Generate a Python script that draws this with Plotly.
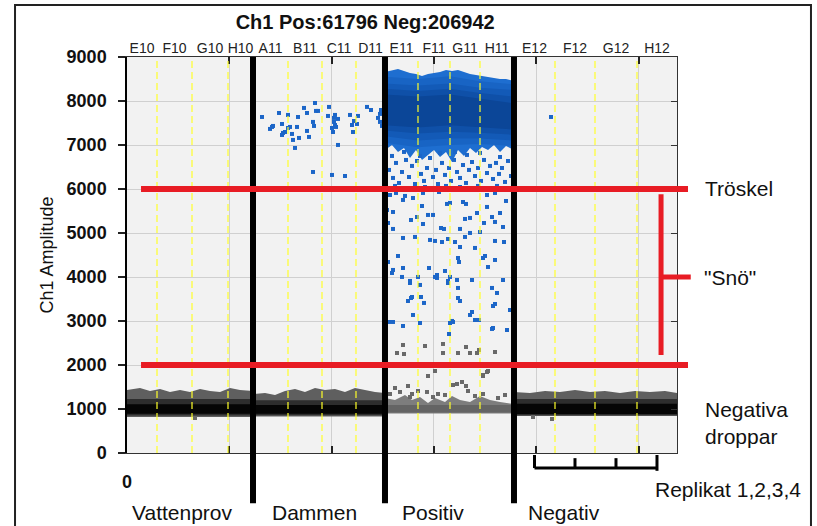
import plotly.graph_objects as go

# ---------------- data ----------------
pos_count = 61796
neg_count = 206942
total_events = 268738

well_names = ["E10", "F10", "G10", "H10", "A11", "B11", "C11", "D11",
              "E11", "F11", "G11", "H11", "E12", "F12", "G12", "H12"]
well_edges = [0, 14658, 31759, 49349, 61564, 78665, 95277, 111889, 126059,
              142184, 157821, 172479, 189088, 209120, 228665, 249186, 268738]
group_names = ["Vattenprov", "Dammen", "Positiv", "Negativ"]
group_edges = [0, 61564, 126059, 189088, 268738]

amp_ticks = [0, 1000, 2000, 3000, 4000, 5000, 6000, 7000, 8000, 9000]
event_ticks = [0, 50000, 100000, 150000, 200000, 250000]
event_ticktext = ["0", "", "", "", "", ""]

threshold = 6000
snow_floor = 2000
snow_label_level = 4000
snow_bracket = [5880, 2230]

# dense positive droplet cloud (Positiv group): envelope
cloud_ev = [126059, 129479, 132411, 135343, 138275, 141207, 144138, 147070, 150002, 152934, 155866,
            158798, 161730, 164662, 167593, 170525, 173457, 176389, 179320, 182253, 185184, 189088]
cloud_top = [8660, 8705, 8730, 8683, 8637, 8615, 8570, 8615, 8637, 8660, 8705,
             8683, 8705, 8660, 8615, 8592, 8570, 8546, 8524, 8500, 8500, 8456]
cloud_bottom = [6887, 7001, 6842, 6933, 6705, 6887, 6660, 6774, 6887, 6728, 6842,
                6614, 6887, 6751, 6933, 6819, 6955, 6887, 7001, 6842, 6978, 6887]
# density shading inside the cloud (outer -> inner bands)
core_ev = [126059, 142184, 157821, 172479, 189088]
shade_top = [
    [8550, 8500, 8560, 8450, 8380],
    [8400, 8350, 8400, 8300, 8250],
    [8280, 8230, 8280, 8180, 8100],
    [8150, 8100, 8150, 8050, 7950],
]
shade_bottom = [
    [7050, 6950, 7000, 7020, 6980],
    [7200, 7100, 7150, 7150, 7100],
    [7330, 7260, 7300, 7280, 7230],
    [7450, 7400, 7450, 7400, 7350],
]

# negative droplet bands, per group: x positions and upper edge
neg_band_ev = [
    [0, 6352, 11238, 16124, 21010, 25896, 30782, 35668, 40554, 45440, 50326, 55212, 61564],
    [61564, 67427, 72313, 77199, 82085, 86971, 91857, 96743, 101629, 106515, 111401, 116287, 121173, 126059],
    [126059, 130945, 135832, 139252, 143161, 147070, 150490, 155377, 158798, 162707, 167593, 172479, 177366, 182253, 189088],
    [189088, 196909, 204238, 211567, 218896, 226226, 233555, 240884, 248213, 255542, 262872, 268738],
]
neg_band_top = [
    [1432, 1477, 1409, 1455, 1387, 1432, 1387, 1455, 1409, 1387, 1477, 1432, 1409],
    [1341, 1364, 1318, 1409, 1455, 1387, 1477, 1432, 1455, 1387, 1477, 1432, 1387, 1364],
    [1250, 1205, 1318, 1205, 1273, 1137, 1250, 1159, 1296, 1205, 1159, 1296, 1205, 1159, 1114],
    [1387, 1364, 1409, 1387, 1432, 1387, 1409, 1364, 1409, 1387, 1409, 1364],
]
neg_band_bottom = [820, 830, 900, 840]
neg_mid_range = [(850, 1230), (860, 1200), (920, 1090), (860, 1230)]
neg_core_range = [(890, 1110), (890, 1090), None, (885, 1120)]

# individual droplets: (event number, amplitude)
dammen_drops = [
    (65961, 7637), (69870, 7365), (71336, 7433), (74267, 7728), (75733, 7478), (75733, 7228),
    (77199, 7296), (78665, 7683), (78665, 7387), (79642, 7410), (80619, 7251), (81108, 7115),
    (82085, 6933), (83062, 7410), (83551, 7637), (84040, 7160), (86482, 7842), (87948, 7728),
    (87948, 7319), (88925, 7183), (90880, 7524), (91369, 7433), (91857, 7955), (92346, 7774),
    (93323, 7774), (98209, 7660), (98697, 7865), (100163, 7387), (100652, 7296), (101140, 7524),
    (101629, 7683), (102118, 7410), (103095, 7592), (103095, 7001), (108958, 7683), (109935, 7455),
    (110424, 7296), (110913, 7546), (112378, 7478), (112867, 7660), (117264, 7865), (119219, 7796),
    (122639, 7615), (123616, 7524), (124104, 7796), (90880, 6387), (100163, 6319), (106515, 6296),
    (70847, 7410), (76221, 7274), (101629, 7455), (101140, 7615), (123616, 7706), (124593, 7433),
]
negativ_drops = [(207166, 7637)]

cloud_speckle = [
    (128013, 6433), (129968, 6251), (131434, 6592), (132900, 6137), (134366, 6387), (136320, 6660),
    (137786, 6273), (139252, 6524), (140718, 6114), (141695, 6637), (143650, 6342), (145116, 6183),
    (146581, 6478), (148047, 6705), (149513, 6273), (150979, 6433), (151957, 6114), (153911, 6592),
    (155377, 6319), (157332, 6478), (158309, 6183), (159775, 6660), (161241, 6387), (162707, 6251),
    (164174, 6546), (165639, 6137), (167105, 6433), (168570, 6614), (170036, 6296), (171502, 6478),
    (172968, 6183), (174434, 6660), (175900, 6364), (177366, 6524), (178832, 6228), (180298, 6592),
    (181764, 6342), (183230, 6478), (184696, 6160), (186162, 6637), (187627, 6296), (129479, 6751),
    (135343, 6842), (143161, 6751), (152934, 6819), (160264, 6842), (166127, 6774), (172479, 6819),
    (182253, 6728), (130945, 6069), (145604, 6046), (162707, 6046), (180786, 6069), (155866, 6069),
    (171502, 6069),
]

rain_blue = [
    (128502, 5864), (131434, 5910), (135832, 5842), (139741, 5796), (144627, 5910), (152445, 5932),
    (157821, 5683), (164174, 5705), (165639, 5660), (175900, 5864), (179809, 5910), (185184, 5728),
    (129968, 5478), (134854, 5751), (141695, 5364), (144138, 5614), (147070, 5410), (149513, 5410),
    (156355, 5660), (165150, 5319), (167593, 5342), (171013, 5455), (175900, 5592), (178343, 5364),
    (182253, 5455), (127525, 5228), (129968, 5092), (138763, 5296), (140718, 4910), (144627, 5205),
    (153423, 5114), (154889, 5092), (162707, 5092), (167593, 5001), (172479, 5023), (174434, 5228),
    (179809, 5251), (183718, 5137), (134854, 4887), (148047, 4842), (150490, 4819), (153911, 4796),
    (156843, 4864), (160264, 4796), (162707, 4682), (165150, 4910), (170036, 4660), (179809, 4819),
    (184207, 4796), (132411, 4478), (134854, 4205), (129968, 4160), (129479, 4091), (134366, 4001),
    (138275, 3864), (142184, 4001), (143161, 3819), (147559, 4205), (150490, 4001), (151468, 3978),
    (155377, 4137), (157821, 4001), (156843, 3864), (161241, 3932), (161730, 3751), (162219, 4341),
    (168570, 3932), (173946, 4432), (174923, 4478), (176389, 4228), (179809, 4387), (178343, 3751),
    (180786, 3637), (183718, 3932), (138763, 3523), (137297, 3455), (143650, 3546), (145116, 3410),
    (139741, 3137), (129968, 2978), (134854, 2887), (143161, 2955), (157821, 2955), (158798, 3001),
    (167593, 3137), (168570, 3205), (171991, 3023), (178832, 3341), (179809, 3387), (178832, 2841),
    (185673, 2796), (157332, 2705), (128013, 2978), (161730, 3523), (162707, 3455), (139252, 3546),
    (159287, 2978), (170036, 3023), (178343, 2819), (127036, 5523), (127525, 4341), (187139, 3250),
    (161730, 4432), (151468, 4046), (138275, 3910), (156843, 3910),
]

rain_gray = [
    (134854, 2455), (131923, 2273), (135343, 2250), (145604, 2432), (154400, 2478), (154400, 2273),
    (161730, 2273), (165639, 2409), (167593, 2273), (171013, 2273), (171991, 2341), (179809, 2296),
    (147070, 1750), (150490, 1864), (175900, 1841), (173946, 1750), (130945, 1477), (137297, 1523),
    (142184, 1409), (146581, 1387), (151957, 1341), (159287, 1546), (161241, 1568), (163684, 1614),
    (165639, 1523), (166616, 1409), (173946, 1773), (176389, 1864), (181275, 1250), (138275, 1273),
    (139252, 1341), (149513, 1273), (173946, 1341), (133389, 1387), (155377, 1318), (170036, 1296),
    (184696, 1318), (128502, 1341), (33225, 795), (207655, 773), (198372, 818),
]

# ---------------- styling ----------------
FONT = "Liberation Sans, Arial, sans-serif"
BLUE = "rgb(28,102,200)"
GRAY = "rgb(105,105,105)"
SHADE_COLORS = ["rgb(24,100,196)", "rgb(19,90,183)", "rgb(15,80,168)", "rgb(11,70,152)"]

fig = go.Figure()


def add_band(xs, top, bottom, color, xaxis="x", yaxis="y"):
    if not isinstance(top, list):
        top = [top] * len(xs)
    if not isinstance(bottom, list):
        bottom = [bottom] * len(xs)
    fig.add_trace(go.Scatter(
        x=list(xs) + list(xs)[::-1], y=list(top) + list(bottom)[::-1],
        mode="lines", fill="toself", fillcolor=color, line=dict(width=0, color=color),
        hoverinfo="skip", xaxis=xaxis, yaxis=yaxis))


# negative droplet bands
for gi in range(4):
    xs = neg_band_ev[gi]
    light = gi == 2
    add_band(xs, neg_band_top[gi], neg_band_bottom[gi],
             "rgb(125,125,125)" if light else "rgb(95,95,95)")
    lo, hi = neg_mid_range[gi]
    add_band(xs, hi, lo, "rgb(100,100,100)" if light else "rgb(45,45,45)")
    if neg_core_range[gi] is not None:
        lo, hi = neg_core_range[gi]
        add_band(xs, hi, lo, "rgb(5,5,5)")

# positive cloud
add_band(cloud_ev, cloud_top, cloud_bottom, "rgb(30,110,208)")
for st, sb, col in zip(shade_top, shade_bottom, SHADE_COLORS):
    add_band(core_ev, st, sb, col)


def add_points(pairs, color):
    fig.add_trace(go.Scatter(
        x=[p[0] for p in pairs], y=[p[1] for p in pairs], mode="markers",
        marker=dict(symbol="square", size=4, color=color, line=dict(width=0)),
        hoverinfo="skip"))


add_points(dammen_drops, BLUE)
add_points(negativ_drops, BLUE)
add_points(cloud_speckle, BLUE)
add_points(rain_blue, BLUE)
add_points(rain_gray, GRAY)

# invisible trace to carry the overlay axes
fig.add_trace(go.Scatter(x=[0], y=[0], xaxis="x2", yaxis="y2", mode="markers",
                         marker=dict(opacity=0), hoverinfo="skip"))

shapes = []
# yellow dashed well separators
for i, e in enumerate(well_edges):
    if e in group_edges:
        continue
    shapes.append(dict(type="line", xref="x", yref="y", x0=e, x1=e, y0=0, y1=9000,
                       layer="above", line=dict(color="rgba(255,255,40,0.6)", width=2, dash="7px,4px")))
# thick black group separators
for e in group_edges[1:-1]:
    shapes.append(dict(type="line", xref="x", yref="paper", x0=e, x1=e, y0=-0.127, y1=1,
                       layer="above", line=dict(color="black", width=6)))
# red threshold & snow limit lines
RED = "rgb(232,28,36)"
for lvl in (threshold, snow_floor):
    shapes.append(dict(type="line", xref="paper", yref="y", x0=0.0255, x1=1.02, y0=lvl, y1=lvl,
                       layer="above", line=dict(color=RED, width=6)))
shapes.append(dict(type="line", xref="paper", yref="y", x0=0.971, x1=0.971,
                   y0=snow_bracket[0], y1=snow_bracket[1], layer="above", line=dict(color=RED, width=5)))
shapes.append(dict(type="line", xref="paper", yref="y", x0=0.969, x1=1.025,
                   y0=snow_label_level, y1=snow_label_level, layer="above", line=dict(color=RED, width=5)))
# replicate bracket under the Negativ group
neg_centers = [(well_edges[i] + well_edges[i + 1]) / 2 for i in range(12, 16)]
shapes.append(dict(type="line", xref="x", yref="paper", x0=neg_centers[0], x1=neg_centers[-1],
                   y0=-0.038, y1=-0.038, line=dict(color="black", width=3)))
for j, c in enumerate(neg_centers):
    top = -0.005 if j in (0, 3) else -0.013
    bot = -0.045 if j == 3 else -0.038
    shapes.append(dict(type="line", xref="x", yref="paper", x0=c, x1=c, y0=bot, y1=top,
                       line=dict(color="black", width=3)))
# outer frame
shapes.append(dict(type="rect", xref="paper", yref="paper", x0=-0.2036, x1=1.2436, y0=-0.2, y1=1.1313,
                   line=dict(color="#222", width=2), fillcolor="rgba(0,0,0,0)"))

well_centers = [(well_edges[i] + well_edges[i + 1]) / 2 for i in range(len(well_names))]

annotations = [
    dict(text="Tröskel", x=1.047, y=0.667, xanchor="left", yanchor="middle"),
    dict(text='"Snö"', x=1.045, y=0.442, xanchor="left", yanchor="middle"),
    dict(text="Negativa<br>droppar", x=1.047, y=0.0745, xanchor="left", yanchor="middle", align="left"),
    dict(text="Replikat 1,2,3,4", x=0.956, y=-0.093, xanchor="left", yanchor="middle"),
]
label_x = [0.0055, 0.26, 0.496, 0.7255]
for name, lx in zip(group_names, label_x):
    annotations.append(dict(text=name, x=lx, y=-0.1515, xanchor="left", yanchor="middle"))
for a in annotations:
    a.update(xref="paper", yref="paper", showarrow=False,
             font=dict(family=FONT, size=21, color="#111"))

fig.update_layout(
    width=817, height=526,
    margin=dict(l=127, r=140, t=57, b=73),
    paper_bgcolor="white", plot_bgcolor="rgb(242,242,242)",
    showlegend=False,
    font=dict(family=FONT, color="#111"),
    title=dict(text=f"Ch1 Pos:{pos_count} Neg:{neg_count}", x=0.447, xanchor="center",
               y=0.958, yanchor="middle", font=dict(family=FONT, size=20, color="#111", weight="bold")),
    xaxis=dict(range=[0, total_events], tickvals=event_ticks, ticktext=event_ticktext,
               ticks="inside", ticklen=7, tickwidth=1.5, tickcolor="#222",
               showline=True, linecolor="#333", linewidth=1, mirror="ticks",
               showgrid=True, gridcolor="rgb(208,208,208)", gridwidth=1, zeroline=False,
               tickfont=dict(family=FONT, size=18, color="#111", weight="bold"),
               ticklabelstandoff=12),
    xaxis2=dict(range=[0, total_events], overlaying="x", side="top",
                tickvals=well_centers, ticktext=well_names, ticks="",
                showline=False, showgrid=False, zeroline=False,
                tickfont=dict(family=FONT, size=14, color="#222")),
    yaxis=dict(range=[0, 9000], tickvals=amp_ticks, ticks="outside", ticklen=7, tickwidth=1.5,
               tickcolor="#222", showline=True, linecolor="black", linewidth=1.5,
               showgrid=True, gridcolor="rgb(208,208,208)", gridwidth=1, zeroline=False,
               tickfont=dict(family=FONT, size=18, color="#111", weight="bold"),
               ticklabelstandoff=8,
               title=dict(text="Ch1 Amplitude", font=dict(family=FONT, size=18, color="#111"),
                          standoff=8)),
    yaxis2=dict(range=[0, 9000], overlaying="y", side="right", tickvals=amp_ticks,
                ticks="inside", ticklen=6, tickcolor="#333", showticklabels=False,
                showline=True, linecolor="#333", linewidth=1, showgrid=False, zeroline=False),
    shapes=shapes,
    annotations=annotations,
)

fig.write_html("out.html", config={"displayModeBar": False},
               post_script="document.body.style.margin='0';document.body.style.overflow='hidden';")
